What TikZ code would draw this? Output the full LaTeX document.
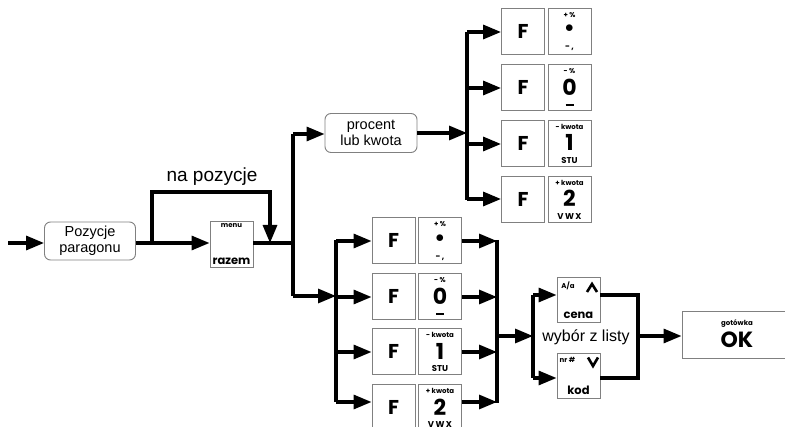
\documentclass[tikz,border=0pt]{standalone}
\usepackage{fontspec}
\setmainfont{Liberation Sans}
\newfontfamily\keyfont{Poppins}
\usetikzlibrary{arrows.meta}
\tikzset{
  thickline/.style={line width=3.2pt},
  arr/.style={line width=3.2pt,-{Triangle[length=18pt,width=14pt]}},
  keybox/.style={draw=black!50,line width=0.9pt,minimum width=43pt,minimum height=46pt,inner sep=0pt},
  rbox/.style={draw=black!50,line width=0.9pt,rounded corners=6pt,align=center,inner sep=0pt,
    font=\fontsize{14.5}{16.5}\selectfont},
  tiny/.style={font=\keyfont\bfseries\fontsize{7}{7}\selectfont,inner sep=0pt},
  big/.style={font=\keyfont\bfseries\fontsize{22}{22}\selectfont,inner sep=0pt},
  ftext/.style={font=\keyfont\bfseries\fontsize{20}{20}\selectfont,inner sep=0pt},
  sub/.style={font=\keyfont\bfseries\fontsize{8.5}{8.5}\selectfont,inner sep=0pt},
  mid/.style={font=\keyfont\bfseries\fontsize{11.5}{11.5}\selectfont,inner sep=0pt},
}
\newcommand\keycap[6]{%
  \node[keybox] (#1F) at (#2,#3) {};
  \node[ftext] (#1Ft) at (#1F.center) {F};
  \node[keybox] (#1K) at (#2+46.5,#3) {};
  \node[tiny] (#1Ka) at ([yshift=-7pt]#1K.north) {#4};
  \node[big] (#1Kb) at ([yshift=0.5pt]#1K.center) {#5};
  \node[sub] (#1Kc) at ([yshift=6pt]#1K.south) {#6};
}
\begin{document}
\begin{tikzpicture}[x=1pt,y=-1pt]
\useasboundingbox (0,0) rectangle (785,427);

% left part
\coordinate (in) at (8,243);
\node[rbox,minimum width=91pt,minimum height=38pt] (poz) at (90,241) {Pozycje\\paragonu};
\node[keybox,minimum height=46pt] (raz) at (231.5,244) {};
\node[tiny] (razm) at ([yshift=-5pt]raz.north) {menu};
\node[mid] (razr) at ([yshift=6.5pt]raz.south) {razem};

\draw[arr] (in) -- (poz.west |- in);
\coordinate (b1) at (152,243);
\coordinate (b2) at (270,243);
\coordinate (j1) at (293,243);
\draw[arr] (poz.east |- b1) -- (raz.west |- b1);
\draw[arr] (b1) -- (152,192) -- (270,192) -- (b2);
\node[font=\fontsize{19}{19}\selectfont,inner sep=0pt] (nap) at (212,177) {na pozycje};
\draw[thickline] (raz.east |- j1) -- (j1);
\draw[thickline] (293,134) -- (293,296);

% procent
\node[rbox,minimum width=92pt,minimum height=39pt] (proc) at (371,133) {procent\\lub kwota};
\draw[arr] (293,134) -- (proc.west |- 0,134);
\coordinate (v1) at (467,133);
\draw[arr] (proc.east |- v1) -- (v1);
\draw[thickline] (467,32) -- (467,200);

% top group
\keycap{a}{523}{31}{+ \%}{\fontsize{22}{22}\selectfont•}{-\,,}
\keycap{b}{523}{87.5}{- \%}{0}{\rule{8pt}{1.8pt}}
\keycap{c}{523}{143}{- kwota}{1}{STU}
\keycap{d}{523}{199}{+ kwota}{2}{V\,W\,X}
\foreach \n/\y in {a/32,b/88,c/144,d/199}{
  \draw[arr] (467,\y) -- (\n F.west |- 0,\y);
}

% bottom group
\draw[arr] (293,296) -- (336,296);
\draw[thickline] (336,240) -- (336,402);
\keycap{e}{393.5}{240.5}{+ \%}{\fontsize{22}{22}\selectfont•}{-\,,}
\keycap{f}{393.5}{296.5}{- \%}{0}{\rule{8pt}{1.8pt}}
\keycap{g}{393.5}{351.5}{- kwota}{1}{STU}
\keycap{h}{393.5}{407.5}{+ kwota}{2}{V\,W\,X}
\foreach \n/\y in {e/241,f/297,g/352,h/402}{
  \draw[arr] (336,\y) -- (\n F.west |- 0,\y);
  \draw[arr] (\n K.east |- 0,\y) -- (497,\y);
}
\draw[thickline] (497,240) -- (497,403);

% selection
\coordinate (v3) at (533,336);
\draw[arr] (497,336) -- (v3);
\draw[thickline] (533,295) -- (533,378);
\node[keybox,minimum height=45pt] (cena) at (578.5,299.5) {};
\node[tiny] (cenaa) at (568,285.5) {A/a};
\draw[line width=2.6pt] (587,292) -- (592,284) -- (597,292);
\node[mid] (cenat) at (578.5,315) {cena};
\node[keybox,minimum height=45pt] (kod) at (578.5,375.5) {};
\node[tiny] (koda) at (567.5,360) {nr \#};
\draw[line width=2.6pt] (588,357.5) -- (593,366) -- (598,357.5);
\node[mid] (kodt) at (578.5,390.5) {kod};
\draw[arr] (533,295) -- (cena.west |- 0,295);
\draw[arr] (533,378) -- (kod.west |- 0,378);
\node[font=\fontsize{16}{16}\selectfont,inner sep=0pt] (wyb) at (586,337) {wybór z listy};
\draw[thickline] (cena.east |- 0,295) -- (638,295) -- (638,378) -- (kod.east |- 0,378);

% OK
\node[keybox,minimum width=110pt,minimum height=47pt] (ok) at (737,335) {};
\node[tiny] (okg) at (737,324) {gotówka};
\node[font=\keyfont\bfseries\fontsize{22}{22}\selectfont,inner sep=0pt] (okt) at (737,340) {OK};
\draw[arr] (638,336) -- (ok.west |- 0,336);
\end{tikzpicture}
\end{document}
